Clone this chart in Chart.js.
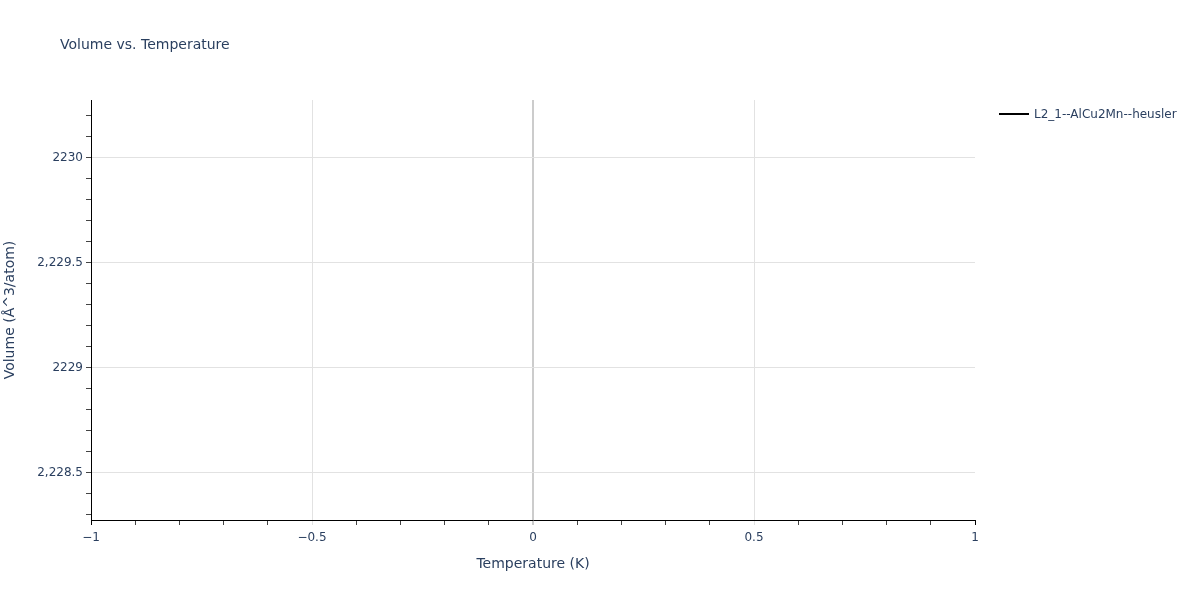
<!DOCTYPE html>
<html>
<head>
<meta charset="utf-8">
<script src="https://cdn.jsdelivr.net/npm/chart.js@4.4.0/dist/chart.umd.min.js"></script>
<style>
  body { margin: 0; background: #fff; }
  #wrap { width: 1200px; height: 600px; }
</style>
</head>
<body>
<div id="wrap"><canvas id="myChart" width="1200" height="600"></canvas></div>
<script>
// dados do gráfico
const chartTitle = 'Volume vs. Temperature'
const seriesName = 'L2_1--AlCu2Mn--heusler'
const temperatures = [0]
const volumes = [2229.276]

const xRange = [-1, 1]
const yRange = [2228.276, 2230.276]
const xTickValues = [-1, -0.5, 0, 0.5, 1]
const xTickLabels = ['\u22121', '\u22120.5', '0', '0.5', '1']
const yTickValues = [2228.5, 2229, 2229.5, 2230]
const yTickLabels = ['2,228.5', '2229', '2,229.5', '2230']

const textColor = '#2a3f5f'
const fontFamily = '"DejaVu Sans", verdana, arial, sans-serif'

//Função que verifica se o valor é um tick principal.
function isMajor(values, v) {
    return values.some(t => Math.abs(t - v) < 1e-6)
}

//Função que gera os ticks menores (a cada 0.1) dentro do intervalo.
function minorTicks(range, step) {
    let ticks = []
    let start = Math.ceil(range[0] / step - 1e-9)
    let end = Math.floor(range[1] / step + 1e-9)
    for (let i = start; i <= end; i++) {
        ticks.push({ value: Math.round(i * step * 1000) / 1000 })
    }
    return ticks
}

//Plugin que desenha o título e a legenda no estilo do original.
const titleLegend = {
    id: 'titleLegend',
    afterDraw(chart) {
        const ctx = chart.ctx
        ctx.save()
        ctx.fillStyle = textColor
        ctx.font = '14px ' + fontFamily
        ctx.textBaseline = 'middle'
        ctx.textAlign = 'left'
        ctx.fillText(chartTitle, 60, 45)

        ctx.strokeStyle = '#000'
        ctx.lineWidth = 2
        ctx.beginPath()
        ctx.moveTo(999, 114)
        ctx.lineTo(1029, 114)
        ctx.stroke()
        ctx.font = '12px ' + fontFamily
        ctx.fillText(seriesName, 1034, 115)
        ctx.restore()
    }
}

const ctx = document.getElementById('myChart').getContext('2d')
const myChart = new Chart(ctx, {
    type: 'line',
    data: {
        datasets: [{
            label: seriesName,
            data: temperatures.map((t, i) => ({ x: t, y: volumes[i] })),
            borderColor: '#000',
            backgroundColor: '#000',
            borderWidth: 2,
            pointRadius: 0
        }]
    },
    options: {
        responsive: false,
        animation: false,
        devicePixelRatio: 1,
        layout: { padding: { left: 0, top: 100, right: 225, bottom: 0 } },
        plugins: {
            legend: { display: false },
            title: { display: false },
            tooltip: { enabled: false }
        },
        scales: {
            x: {
                type: 'linear',
                min: xRange[0],
                max: xRange[1],
                afterBuildTicks: scale => { scale.ticks = minorTicks(xRange, 0.1) },
                afterFit: scale => { scale.height = 80 },
                border: { display: true, color: '#000', width: 1 },
                grid: {
                    color: c => {
                        const v = c.tick ? c.tick.value : null
                        if (v === null || !isMajor(xTickValues, v)) return 'rgba(0,0,0,0)'
                        if (Math.abs(v) === 1) return 'rgba(0,0,0,0)'
                        if (v === 0) return '#cccccc'
                        return '#e2e2e2'
                    },
                    lineWidth: c => (c.tick && c.tick.value === 0 ? 2 : 1),
                    tickColor: c => {
                        const v = c.tick ? c.tick.value : 0
                        if (Math.abs(v) === 1) return '#000'
                        if (isMajor(xTickValues, v)) return v === 0 ? '#cccccc' : '#e2e2e2'
                        return '#444'
                    },
                    tickLength: 5,
                    drawTicks: true
                },
                ticks: {
                    autoSkip: false,
                    maxRotation: 0,
                    padding: 6,
                    color: textColor,
                    font: { family: fontFamily, size: 12 },
                    callback: v => {
                        const i = xTickValues.findIndex(t => Math.abs(t - v) < 1e-6)
                        return i >= 0 ? xTickLabels[i] : ''
                    }
                },
                title: {
                    display: true,
                    text: 'Temperature (K)',
                    color: textColor,
                    font: { family: fontFamily, size: 14 },
                    padding: { top: 0, bottom: 27 }
                }
            },
            y: {
                type: 'linear',
                min: yRange[0],
                max: yRange[1],
                afterBuildTicks: scale => { scale.ticks = minorTicks(yRange, 0.1) },
                afterFit: scale => { scale.width = 91 },
                border: { display: true, color: '#000', width: 1 },
                grid: {
                    color: c => (c.tick && isMajor(yTickValues, c.tick.value) ? '#e2e2e2' : 'rgba(0,0,0,0)'),
                    tickColor: '#444',
                    tickLength: 5,
                    drawTicks: true
                },
                ticks: {
                    autoSkip: false,
                    padding: 3,
                    color: textColor,
                    font: { family: fontFamily, size: 12 },
                    callback: v => {
                        const i = yTickValues.findIndex(t => Math.abs(t - v) < 1e-6)
                        return i >= 0 ? yTickLabels[i] : ''
                    }
                },
                title: {
                    display: true,
                    text: 'Volume (\u00c5^3/atom)',
                    color: textColor,
                    font: { family: fontFamily, size: 14 },
                    padding: { top: 2, bottom: 0 }
                }
            }
        }
    },
    plugins: [titleLegend]
})
</script>
</body>
</html>
